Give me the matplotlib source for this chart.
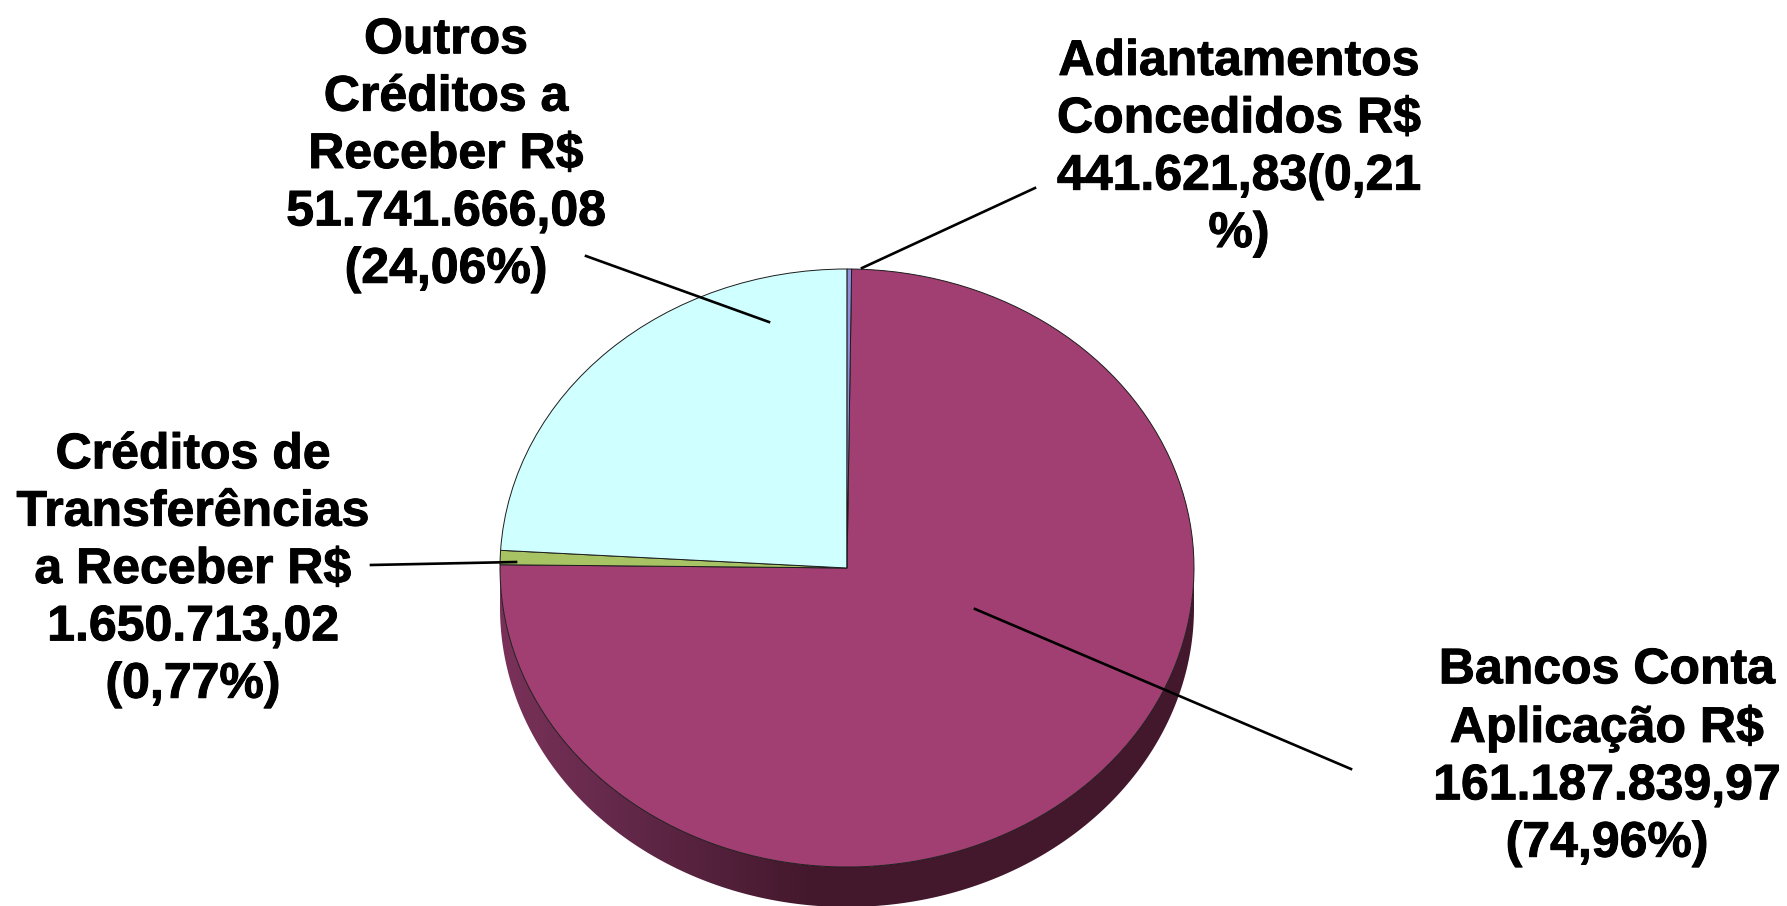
import numpy as np
import matplotlib
matplotlib.use("Agg")
import matplotlib.pyplot as plt
import matplotlib.patheffects as pe
from matplotlib.colors import LinearSegmentedColormap
from matplotlib.patches import Polygon

# Slices, clockwise from the top of the pie
categories = ["Bancos Conta\nAplicação R$\n161.187.839,97\n(74,96%)",
              "Créditos de\nTransferências\na Receber R$\n1.650.713,02\n(0,77%)",
              "Outros\nCréditos a\nReceber R$\n51.741.666,08\n(24,06%)",
              "Adiantamentos\nConcedidos R$\n441.621,83(0,21\n%)"]
values = [161187839.97, 1650713.02, 51741666.08, 441621.83]
colors = ["#A23F72", "#A8C364", "#CFFFFF", "#8F8FDD"]

W, H = 1787, 906
cx, cy, rx, ry, depth = 847, 568, 347, 299, 40

fig = plt.figure(figsize=(W / 100, H / 100), dpi=100)
ax = fig.add_axes([0, 0, 1, 1])

# 3D side of the pie, lighter on the left
theta = np.linspace(np.pi, 2 * np.pi, 200)
d = depth / ry
top = np.column_stack([np.cos(theta), np.sin(theta)])
bottom = np.column_stack([np.cos(theta[::-1]), np.sin(theta[::-1]) - d])
side = Polygon(np.vstack([top, bottom]), closed=True, fc="none", ec="none")
ax.add_patch(side)
cmap = LinearSegmentedColormap.from_list(
    "side", [(0, "#7A3159"), (0.15, "#662A4C"), (0.45, "#43182C"), (1, "#43182C")])
img = ax.imshow(np.linspace(0, 1, 256).reshape(1, -1), cmap=cmap, aspect="auto",
                extent=(-1, 1, -1 - d, 0), zorder=1)
img.set_clip_path(side)

ax.pie(values, colors=colors, startangle=89.24, counterclock=False, radius=1,
       wedgeprops={"edgecolor": "#1c1c1c", "linewidth": 0.7, "zorder": 2})

ax.set_aspect("auto")
ax.set_xlim((0 - cx) / rx, (W - cx) / rx)
ax.set_ylim((cy - H) / ry, cy / ry)
ax.axis("off")

# Overlay in pixel coordinates for the labels and leader lines
ov = fig.add_axes([0, 0, 1, 1])
ov.set_xlim(0, W)
ov.set_ylim(H, 0)
ov.axis("off")
ov.patch.set_alpha(0)

label_pos = [(1607, 757), (193, 570), (446, 155), (1239, 148)]
leaders = [((975, 609), (1351, 769)),
           ((516, 562), (371, 565)),
           ((769, 322), (586, 256)),
           ((862, 268), (1035, 188))]

for text, (x, y) in zip(categories, label_pos):
    ov.text(x, y, text, ha="center", va="center", multialignment="center",
            fontsize=36, fontweight="bold", family="Liberation Sans",
            linespacing=1.316, color="black",
            path_effects=[pe.withStroke(linewidth=0.7, foreground="black")])

for (x0, y0), (x1, y1) in leaders:
    ov.plot([x0, x1], [y0, y1], color="black", lw=1.9)

fig.savefig("out.png", dpi=100)
